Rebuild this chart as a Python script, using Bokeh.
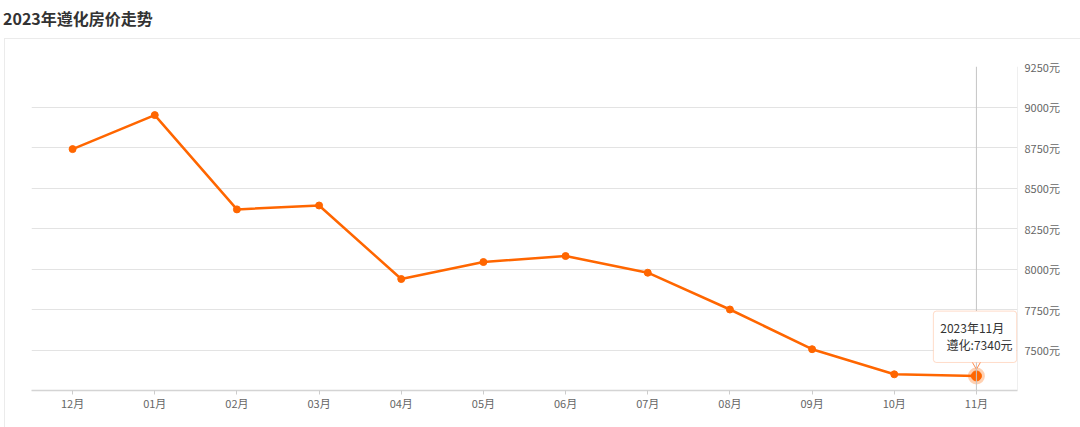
from bokeh.plotting import figure
from bokeh.models import Range1d, FixedTicker, Span, BoxAnnotation, Label, Div
from bokeh.layouts import column
from bokeh.embed import file_html
from bokeh.resources import INLINE

# ---- data ----
months = ["12月", "01月", "02月", "03月", "04月", "05月", "06月", "07月", "08月", "09月", "10月", "11月"]
prices = [8740, 8950, 8368, 8392, 7938, 8043, 8080, 7977, 7750, 7505, 7350, 7340]
y_ticks = [7500, 7750, 8000, 8250, 8500, 8750, 9000, 9250]
y_min, y_max = 7250, 9250
title_text = "2023年遵化房价走势"
tooltip_title = "2023年11月"
series_name = "遵化"
unit = "元"

FONT = "Noto Sans CJK SC"
ORANGE = "#FF6600"

xs = [i + 0.5 for i in range(len(months))]

title_div = Div(text=title_text, width=1080, height=38, margin=(0, 0, 0, 0),
                styles={"font-family": FONT, "font-size": "16px", "font-weight": "bold",
                        "color": "#333333", "line-height": "36px", "padding-left": "3px"})

p = figure(width=1076, height=389,
           x_range=Range1d(0, len(months)), y_range=Range1d(y_min, y_max),
           y_axis_location="right", title=None,
           output_backend="svg", toolbar_location=None, tools="",
           min_border_left=26, min_border_right=64,
           min_border_top=27, min_border_bottom=38,
           margin=(0, 0, 0, 4),
           styles={"border-top": "1px solid #ebebeb", "border-left": "1px solid #ebebeb"})
p.outline_line_color = None
p.background_fill_color = "white"
p.border_fill_color = "white"

# x axis
p.xaxis.ticker = FixedTicker(ticks=xs)
p.xaxis.major_label_overrides = {x: m for x, m in zip(xs, months)}
p.xaxis.axis_line_color = "#d4d4d4"
p.xaxis.axis_line_width = 1.5
p.xaxis.major_tick_line_color = "#cccccc"
p.xaxis.major_tick_out = 4
p.xaxis.major_tick_in = 0
p.xaxis.minor_tick_line_color = None
p.xaxis.major_label_standoff = 0
p.xaxis.major_label_text_font = FONT
p.xaxis.major_label_text_font_size = "11px"
p.xaxis.major_label_text_color = "#666666"

# y axis
p.yaxis.ticker = FixedTicker(ticks=y_ticks)
p.yaxis.major_label_overrides = {t: f"{t}{unit}" for t in y_ticks}
p.yaxis.axis_line_color = None
p.yaxis.major_tick_line_color = None
p.yaxis.minor_tick_line_color = None
p.yaxis.major_tick_out = 0
p.yaxis.major_tick_in = 0
p.yaxis.major_label_standoff = 7
p.yaxis.major_label_text_font = FONT
p.yaxis.major_label_text_font_size = "11px"
p.yaxis.major_label_text_color = "#666666"

p.xgrid.grid_line_color = None
p.ygrid.ticker = FixedTicker(ticks=y_ticks)
p.ygrid.grid_line_color = "#e3e3e3"
p.ygrid.grid_line_width = 1

# right border and crosshair
p.add_layout(Span(location=len(months), dimension="height", line_color="#e0e0e0", line_width=1))
p.add_layout(Span(location=xs[-1], dimension="height", line_color="#c4c4c4", line_width=1))

# line series
p.line(xs, prices, line_color=ORANGE, line_width=2.5)
p.scatter(xs[:-1], prices[:-1], size=7, fill_color=ORANGE, line_color=ORANGE)
p.scatter([xs[-1]], [prices[-1]], size=17, fill_color=ORANGE, fill_alpha=0.3, line_color=None)
p.scatter([xs[-1]], [prices[-1]], size=10, fill_color=ORANGE, line_color=ORANGE)

# tooltip
p.scatter([xs[-1]], [7420], marker="inverted_triangle", size=11,
          fill_color="white", line_color="#FF8A4C", line_width=1)
p.add_layout(BoxAnnotation(left=xs[-1] - 0.524, right=xs[-1] + 0.49, top=7740, bottom=7423,
                           fill_color="white", fill_alpha=1, line_color="#FF8A4C",
                           line_width=1, border_radius=3))
p.add_layout(Label(x=xs[-1] - 0.44, y=7640, text=tooltip_title, text_font=FONT,
                   text_font_size="12px", text_color="#333333",
                   text_align="left", text_baseline="middle"))
p.add_layout(Label(x=xs[-1] + 0.44, y=7532, text=f"{series_name}:{prices[-1]}{unit}",
                   text_font=FONT, text_font_size="12px", text_color="#333333",
                   text_align="right", text_baseline="middle"))

layout = column(title_div, p, spacing=0)
open("out.html", "w").write(file_html(layout, INLINE))
